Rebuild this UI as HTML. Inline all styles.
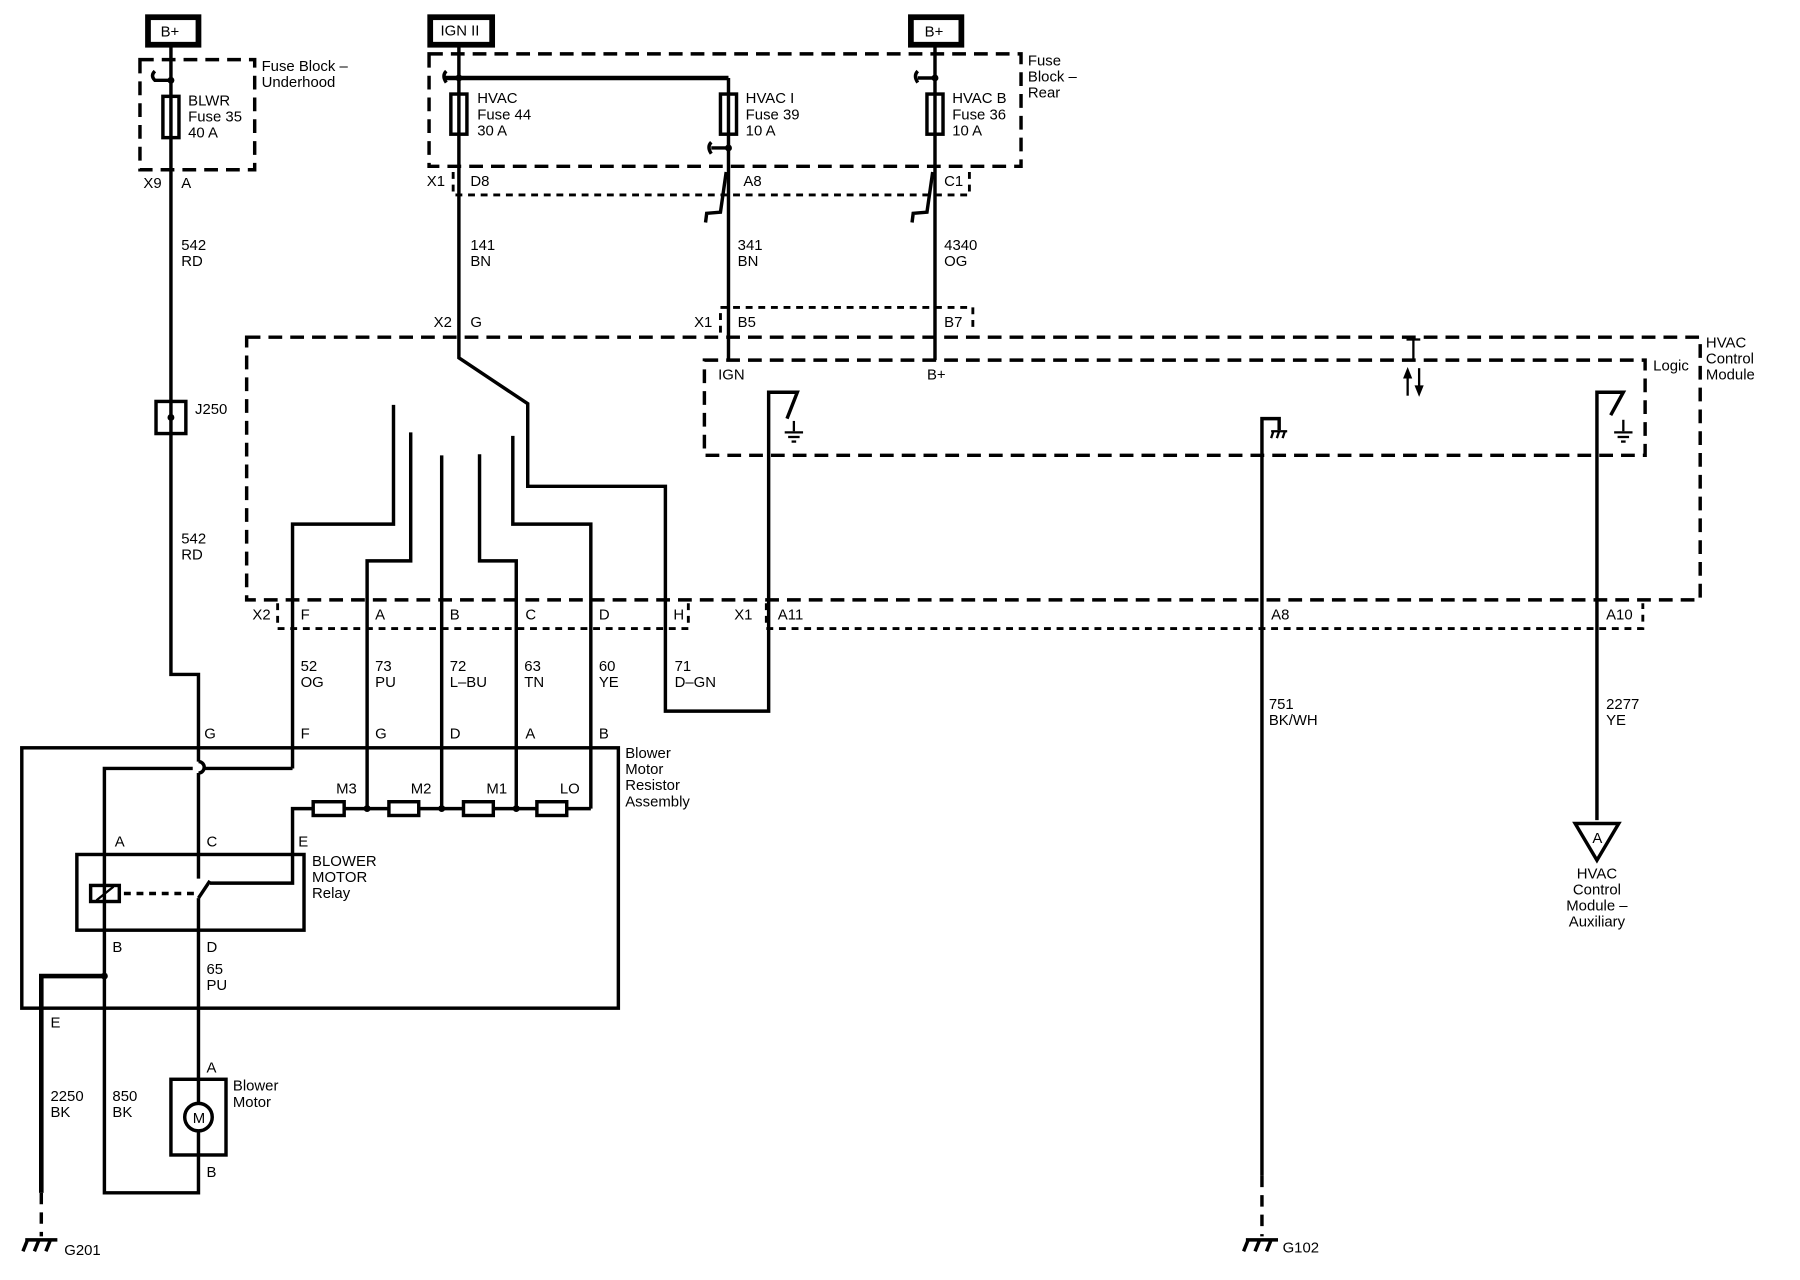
<!DOCTYPE html>
<html><head><meta charset="utf-8"><style>
html,body{margin:0;padding:0;background:#fff;}
svg{display:block;}
text{font-family:"Liberation Sans Narrow","Liberation Sans",sans-serif;font-size:13px;fill:#000;}
</style></head><body>
<svg width="1800" height="1280" viewBox="0 0 1569 1116" preserveAspectRatio="none" xmlns="http://www.w3.org/2000/svg">
<g fill="none" stroke="#000" stroke-width="3">
<rect x="129" y="15" width="44" height="24" stroke-width="5"/>
<rect x="375" y="15" width="54" height="24" stroke-width="5"/>
<rect x="794" y="15" width="44" height="24" stroke-width="5"/>
<rect x="122" y="52" width="100" height="96" stroke-dasharray="12 7"/>
<rect x="374" y="47" width="516" height="98" stroke-dasharray="12 7"/>
<rect x="215" y="294" width="1267" height="229" stroke-dasharray="12 7"/>
<rect x="614" y="314" width="820" height="83" stroke-dasharray="12 7"/>
<g stroke-width="2.5" stroke-dasharray="6 5">
<polyline points="395,150 395,170 845,170 845,150"/>
<polyline points="628,290 628,268 848,268 848,290"/>
<polyline points="242,526 242,548 600,548 600,526"/>
<polyline points="668,526 668,548 1432,548 1432,526"/>
</g>
<polyline points="149,40 149,588 173,588 173,664"/>
<path d="M173,664 a5,5 0 0 1 0,10"/>
<line x1="173" y1="674" x2="173" y2="766"/>
<rect x="142" y="84" width="14" height="36"/>
<path d="M135,62 q-4,4 0,8 l14,0"/>
<rect x="136" y="350" width="26" height="28"/>
<polyline points="400,40 400,312 460,352 460,424 580,424 580,620 670,620 670,342 695,342 686,365"/>
<line x1="388" y1="68" x2="635" y2="68" stroke-width="4"/>
<path d="M389,62 q-4,4 0,10"/>
<rect x="393" y="82" width="14" height="35"/>
<line x1="635" y1="68" x2="635" y2="314"/>
<rect x="628" y="82" width="14" height="35"/>
<path d="M620,124 q-4,4 0,10 M620,129 l15,0"/>
<polyline points="633,150 628,185 616,186 615,194"/>
<line x1="815" y1="40" x2="815" y2="314"/>
<rect x="808" y="82" width="14" height="35"/>
<path d="M800,62 q-4,4 0,10 M800,68 l15,0"/>
<polyline points="813,150 808,185 796,186 795,194"/>
<g stroke-width="2"><line x1="692" y1="367" x2="692" y2="376"/><line x1="684" y1="377" x2="700" y2="377"/><line x1="687" y1="381" x2="697" y2="381"/><line x1="690" y1="385" x2="694" y2="385"/></g>
<polyline points="1100,1025 1100,365 1115,365 1115,375"/>
<line x1="1100" y1="1025" x2="1100" y2="1078" stroke-dasharray="10 7"/>
<g stroke-width="2"><line x1="1108" y1="376" x2="1122" y2="376"/><line x1="1110" y1="376" x2="1108" y2="382"/><line x1="1115" y1="376" x2="1113" y2="382"/><line x1="1120" y1="376" x2="1118" y2="382"/></g>
<polyline points="1392,715 1392,342 1415,342 1404,362"/>
<g stroke-width="2"><line x1="1415" y1="366" x2="1415" y2="376"/><line x1="1407" y1="377" x2="1423" y2="377"/><line x1="1410" y1="381" x2="1420" y2="381"/><line x1="1413" y1="385" x2="1417" y2="385"/></g>
<line x1="1232" y1="296" x2="1232" y2="314" stroke-width="2"/>
<line x1="1226" y1="296" x2="1238" y2="296" stroke-width="2"/>
<line x1="1227" y1="327" x2="1227" y2="345" stroke-width="2"/>
<line x1="1237" y1="321" x2="1237" y2="338" stroke-width="2"/>
<polyline points="255,670 255,457 343,457 343,353"/>
<polyline points="320,705 320,489 358,489 358,377"/>
<line x1="385" y1="705" x2="385" y2="397"/>
<polyline points="450,705 450,489 418,489 418,396"/>
<polyline points="515,705 515,457 447,457 447,380"/>
<rect x="19" y="652" width="520" height="227"/>
<polyline points="255,670 178,670"/>
<polyline points="168,670 91,670 91,1040 173,1040 173,985"/>
<polyline points="183,770 255,770 255,705 515,705"/>
<g fill="#fff"><rect x="273" y="699" width="27" height="12"/><rect x="339" y="699" width="26" height="12"/><rect x="404" y="699" width="26" height="12"/><rect x="468" y="699" width="26" height="12"/></g>
<rect x="67" y="745" width="198" height="66"/>
<rect x="79" y="772" width="25" height="14"/>
<line x1="84" y1="785" x2="99" y2="773" stroke-width="2"/>
<line x1="108" y1="779" x2="172" y2="779" stroke-dasharray="6 5"/>
<polyline points="173,783 183,768"/>
<line x1="173" y1="783" x2="173" y2="964"/>
<polyline points="91,851 36,851 36,1040" stroke-width="4"/>
<line x1="36" y1="1040" x2="36" y2="1078" stroke-dasharray="10 7"/>
<rect x="149" y="941" width="48" height="66"/>
<circle cx="173" cy="974" r="12" fill="#fff"/>
<polygon points="1373,718 1411,718 1392,750"/>
</g>
<g fill="#000">
<circle cx="149" cy="70" r="3"/><circle cx="400" cy="68" r="3"/><circle cx="635" cy="129" r="3"/><circle cx="815" cy="68" r="3"/>
<circle cx="149" cy="364" r="3"/><circle cx="320" cy="705" r="3"/><circle cx="385" cy="705" r="3"/><circle cx="450" cy="705" r="3"/><circle cx="91" cy="851" r="3"/>
<polygon points="1223,330 1227,320 1231,330"/><polygon points="1233,336 1237,346 1241,336"/>
</g>
<g stroke="#000" stroke-width="3" fill="none">
<path d="M22,1081 L50,1081 M24,1081 l-4,10 M34,1081 l-4,10 M44,1081 l-4,10"/>
<path d="M1086,1081 L1114,1081 M1088,1081 l-4,10 M1098,1081 l-4,10 M1108,1081 l-4,10"/>
</g>
<g>
<text x="140" y="32">B+</text>
<text x="384" y="31">IGN II</text>
<text x="806" y="32">B+</text>
<text x="228" y="62">Fuse Block –</text><text x="228" y="76">Underhood</text>
<text x="164" y="92">BLWR</text><text x="164" y="106">Fuse 35</text><text x="164" y="120">40 A</text>
<text x="416" y="90">HVAC</text><text x="416" y="104">Fuse 44</text><text x="416" y="118">30 A</text>
<text x="650" y="90">HVAC I</text><text x="650" y="104">Fuse 39</text><text x="650" y="118">10 A</text>
<text x="830" y="90">HVAC B</text><text x="830" y="104">Fuse 36</text><text x="830" y="118">10 A</text>
<text x="896" y="57">Fuse</text><text x="896" y="71">Block –</text><text x="896" y="85">Rear</text>
<text x="125" y="164">X9</text><text x="158" y="164">A</text>
<text x="372" y="162">X1</text><text x="410" y="162">D8</text><text x="648" y="162">A8</text><text x="823" y="162">C1</text>
<text x="158" y="218">542</text><text x="158" y="232">RD</text>
<text x="410" y="218">141</text><text x="410" y="232">BN</text>
<text x="643" y="218">341</text><text x="643" y="232">BN</text>
<text x="823" y="218">4340</text><text x="823" y="232">OG</text>
<text x="378" y="285">X2</text><text x="410" y="285">G</text>
<text x="605" y="285">X1</text><text x="643" y="285">B5</text><text x="823" y="285">B7</text>
<text x="1487" y="303">HVAC</text><text x="1487" y="317">Control</text><text x="1487" y="331">Module</text>
<text x="1441" y="323">Logic</text>
<text x="626" y="331">IGN</text><text x="808" y="331">B+</text>
<text x="170" y="361">J250</text>
<text x="158" y="474">542</text><text x="158" y="488">RD</text>
<text x="220" y="540">X2</text><text x="262" y="540">F</text><text x="327" y="540">A</text><text x="392" y="540">B</text><text x="458" y="540">C</text><text x="522" y="540">D</text><text x="587" y="540">H</text>
<text x="640" y="540">X1</text><text x="678" y="540">A11</text><text x="1108" y="540">A8</text><text x="1400" y="540">A10</text>
<text x="262" y="585">52</text><text x="262" y="599">OG</text>
<text x="327" y="585">73</text><text x="327" y="599">PU</text>
<text x="392" y="585">72</text><text x="392" y="599">L–BU</text>
<text x="457" y="585">63</text><text x="457" y="599">TN</text>
<text x="522" y="585">60</text><text x="522" y="599">YE</text>
<text x="588" y="585">71</text><text x="588" y="599">D–GN</text>
<text x="1106" y="618">751</text><text x="1106" y="632">BK/WH</text>
<text x="1400" y="618">2277</text><text x="1400" y="632">YE</text>
<text x="178" y="644">G</text><text x="262" y="644">F</text><text x="327" y="644">G</text><text x="392" y="644">D</text><text x="458" y="644">A</text><text x="522" y="644">B</text>
<text x="545" y="661">Blower</text><text x="545" y="675">Motor</text><text x="545" y="689">Resistor</text><text x="545" y="703">Assembly</text>
<text x="293" y="692">M3</text><text x="358" y="692">M2</text><text x="424" y="692">M1</text><text x="488" y="692">LO</text>
<text x="100" y="738">A</text><text x="180" y="738">C</text><text x="260" y="738">E</text>
<text x="272" y="755">BLOWER</text><text x="272" y="769">MOTOR</text><text x="272" y="783">Relay</text>
<text x="98" y="830">B</text><text x="180" y="830">D</text>
<text x="180" y="849">65</text><text x="180" y="863">PU</text>
<text x="44" y="896">E</text>
<text x="180" y="935">A</text>
<text x="203" y="951">Blower</text><text x="203" y="965">Motor</text>
<text x="44" y="960">2250</text><text x="44" y="974">BK</text>
<text x="98" y="960">850</text><text x="98" y="974">BK</text>
<text x="168" y="979" font-size="12">M</text>
<text x="180" y="1026">B</text>
<text x="1388" y="735" font-size="11">A</text>
<g text-anchor="middle"><text x="1392" y="766">HVAC</text><text x="1392" y="780">Control</text><text x="1392" y="794">Module –</text><text x="1392" y="808">Auxiliary</text></g>
<text x="56" y="1094">G201</text>
<text x="1118" y="1092">G102</text>
</g>
</svg>
</body></html>
